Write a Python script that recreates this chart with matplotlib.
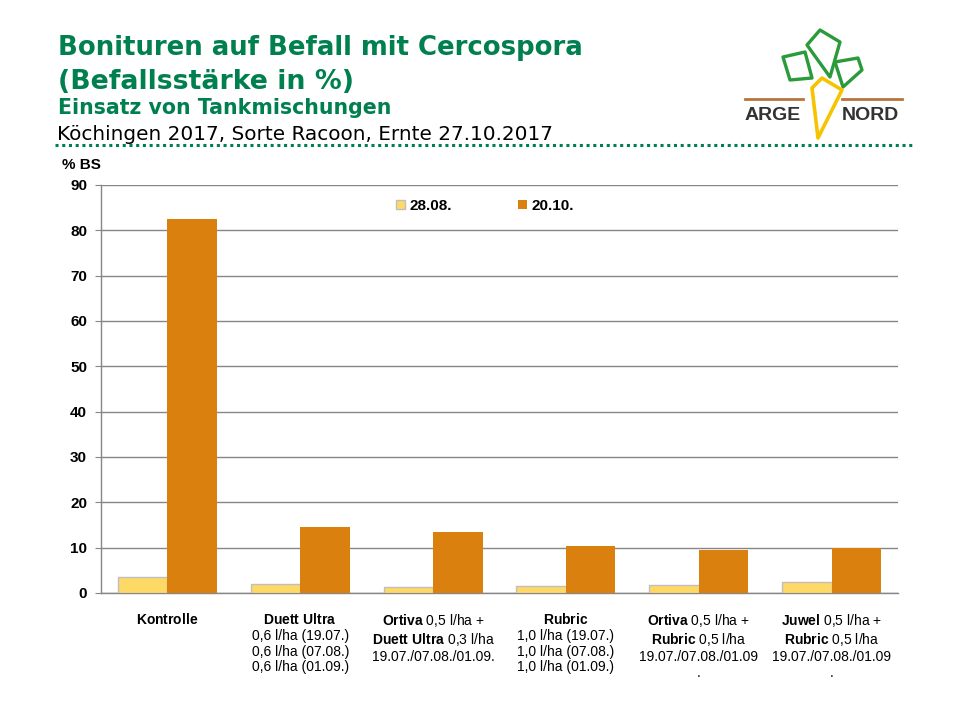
import numpy as np
import matplotlib.pyplot as plt
from matplotlib.patches import Polygon
from matplotlib.lines import Line2D

plt.rcParams['font.family'] = ['Liberation Sans', 'DejaVu Sans']
plt.rcParams['mathtext.fontset'] = 'custom'
plt.rcParams['mathtext.rm'] = 'Liberation Sans'
plt.rcParams['mathtext.bf'] = 'Liberation Sans:bold'

# data
labels = [
    r'$\mathbf{Kontrolle}$',
    '$\\mathbf{Duett\\ Ultra}$\n0,6 l/ha (19.07.)\n0,6 l/ha (07.08.)\n0,6 l/ha (01.09.)',
    '$\\mathbf{Ortiva}$ 0,5 l/ha +\n$\\mathbf{Duett\\ Ultra}$ 0,3 l/ha\n19.07./07.08./01.09.',
    '$\\mathbf{Rubric}$\n1,0 l/ha (19.07.)\n1,0 l/ha (07.08.)\n1,0 l/ha (01.09.)',
    '$\\mathbf{Ortiva}$ 0,5 l/ha +\n$\\mathbf{Rubric}$ 0,5 l/ha\n19.07./07.08./01.09\n.',
    '$\\mathbf{Juwel}$ 0,5 l/ha +\n$\\mathbf{Rubric}$ 0,5 l/ha\n19.07./07.08./01.09\n.',
]
series_names = ['28.08.', '20.10.']
bs_2808 = [3.5, 2.0, 1.3, 1.5, 1.8, 2.4]
bs_2010 = [82.4, 14.5, 13.4, 10.3, 9.4, 9.9]

green = '#00804f'
yellow = '#ffd966'
orange = '#d9800e'
grey = '#868686'

W, H = 960, 720
fig = plt.figure(figsize=(9.6, 7.2), dpi=100)

def fx(px):
    return px / W

def fy(py):
    return 1 - py / H

ax = fig.add_axes([fx(101), fy(593), fx(898) - fx(101), fy(185) - fy(593)])

x = np.arange(len(labels))
w = 0.373
ax.bar(x - w / 2, bs_2808, w, color=yellow, edgecolor='#bfbfbf', linewidth=1,
       label=series_names[0], zorder=3)
ax.bar(x + w / 2, bs_2010, w, color=orange, linewidth=0,
       label=series_names[1], zorder=3)

ax.set_xlim(-0.5, len(labels) - 0.5)
ax.set_ylim(0, 90)
ax.set_yticks(range(0, 91, 10))
ax.yaxis.grid(True, color=grey, linewidth=1, zorder=0)
for s in ['top', 'right']:
    ax.spines[s].set_visible(False)
for s in ['left', 'bottom']:
    ax.spines[s].set_color(grey)
    ax.spines[s].set_linewidth(1)
ax.tick_params(axis='y', length=4, color=grey, labelsize=11, pad=6)
for t in ax.get_yticklabels():
    t.set_fontweight('bold')
ax.set_xticks(x, labels)
ax.tick_params(axis='x', length=0, labelsize=10, pad=14)
for t in ax.get_xticklabels():
    t.set_linespacing(1.15)

ax.legend(loc='center left', bbox_to_anchor=(fx(396), fy(206)),
          bbox_transform=fig.transFigure, ncol=2, frameon=False,
          prop={'weight': 'bold', 'size': 11}, handlelength=0.6,
          handleheight=0.6, handletextpad=0.3, columnspacing=4.3,
          borderpad=0, borderaxespad=0)

fig.text(fx(62), fy(169), '% BS', fontsize=11, fontweight='bold', va='baseline')

# titles
fig.text(fx(58), fy(55), 'Bonituren auf Befall mit Cercospora', color=green,
         fontsize=18.7, fontweight='bold', va='baseline', family='DejaVu Sans')
fig.text(fx(58), fy(89), '(Befallsstärke in %)', color=green,
         fontsize=19.3, fontweight='bold', va='baseline', family='DejaVu Sans')
fig.text(fx(58), fy(114), 'Einsatz von Tankmischungen', color=green,
         fontsize=14.8, fontweight='bold', va='baseline', family='DejaVu Sans')
fig.text(fx(57), fy(140), 'Köchingen 2017, Sorte Racoon, Ernte 27.10.2017',
         color='black', fontsize=14.4, va='baseline', family='DejaVu Sans')

fig.add_artist(Line2D([fx(55), fx(915)], [fy(145), fy(145)], color=green,
                      linewidth=2.2, linestyle=(0, (1, 1.2))))

# logo
def poly(pts, color, lw=2.4):
    p = Polygon([(fx(a), fy(b)) for a, b in pts], closed=True, fill=False,
                edgecolor=color, linewidth=lw, joinstyle='round',
                transform=fig.transFigure)
    fig.add_artist(p)

fig.add_artist(Line2D([fx(745), fx(803)], [fy(99), fy(99)], color='#b8743a', linewidth=2))
fig.add_artist(Line2D([fx(842), fx(902)], [fy(99), fy(99)], color='#b8743a', linewidth=2))
poly([(783, 57), (805, 52), (812, 78), (790, 80)], '#2a9a3a')
poly([(807, 45), (820, 30), (840, 42), (830, 77)], '#2a9a3a')
poly([(835, 62), (858, 58), (862, 70), (843, 87)], '#2a9a3a')
poly([(812, 88), (822, 78), (842, 90), (818, 138)], '#f5c400', lw=2.6)
fig.text(fx(745), fy(120), 'ARGE', fontsize=14, fontweight='bold', color='#333333',
         va='baseline')
fig.text(fx(842), fy(120), 'NORD', fontsize=14, fontweight='bold', color='#333333',
         va='baseline')

fig.savefig('out.png', dpi=100)
